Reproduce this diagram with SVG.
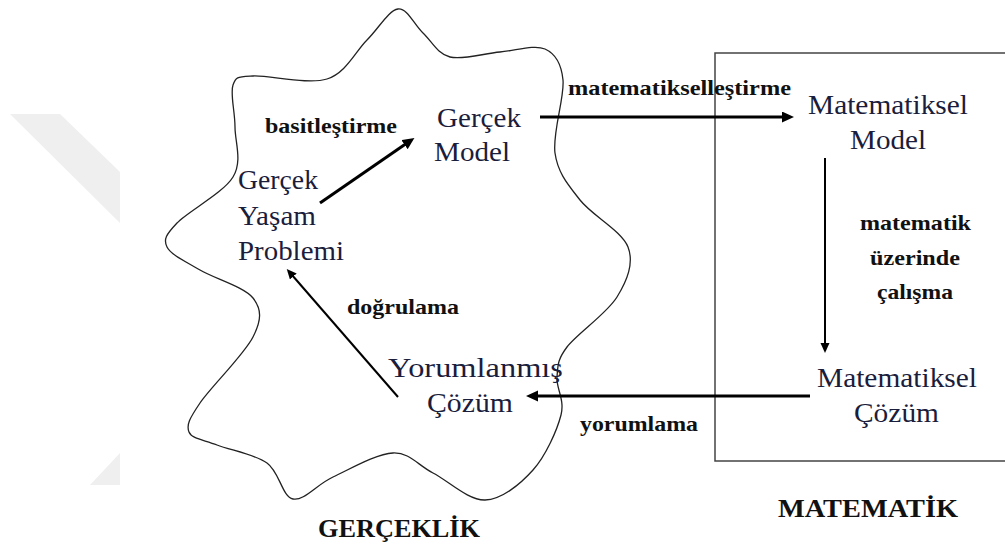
<svg xmlns="http://www.w3.org/2000/svg" width="1005" height="547" viewBox="0 0 1005 547">
  <style>
    .node { font-family: "Liberation Serif", "Times New Roman", serif; font-size: 27px; fill: #1b1d3c; }
    .lbl { font-family: "Liberation Serif", "Times New Roman", serif; font-size: 21px; font-weight: bold; fill: #111; }
    .title { font-family: "Liberation Serif", "Times New Roman", serif; font-size: 25px; font-weight: bold; fill: #111; }
    .thick { stroke: #000; stroke-width: 3; fill: none; marker-end: url(#head); }
    .thin { stroke: #000; stroke-width: 2; fill: none; marker-end: url(#headS); }
  </style>
  <defs>
    <marker id="head" markerUnits="userSpaceOnUse" markerWidth="14" markerHeight="12" refX="3" refY="5.5" orient="auto">
      <path d="M0,0 L12,5.5 L0,11 z" fill="#000"/>
    </marker>
    <marker id="headS" markerUnits="userSpaceOnUse" markerWidth="12" markerHeight="10" refX="2" refY="4.5" orient="auto">
      <path d="M0,0 L10,4.5 L0,9 z" fill="#000"/>
    </marker>
  </defs>

  <rect width="1005" height="547" fill="#fff"/>

  <!-- faint background band -->
  <g id="backdrop" fill="#efefef">
    <polygon points="10,114 60,114 120,172 120,223"/>
    <polygon points="90,485 120,453 120,485"/>
  </g>

  <!-- reality region (wavy outline) -->
  <g id="gerceklik">
    <path fill="none" stroke="#222" stroke-width="1.3" d="
      M398,9
      C407.3,7.8 414.3,25 423,33
      C431.7,41 437.2,53.8 450,57
      C462.8,60.2 484.2,53.3 500,52
      C515.8,50.7 534.5,44.3 545,49
      C555.5,53.7 561.3,62.7 563,80
      C564.7,97.3 552.2,133 555,153
      C557.8,173 567.8,184.3 580,200
      C592.2,215.7 621.8,230.8 628,247
      C634.2,263.2 627.2,280.3 617,297
      C606.8,313.7 577,333.7 567,347
      C557,360.3 558,365.7 557,377
      C556,388.3 565,399.5 561,415
      C557,430.5 545.7,455.8 533,470
      C520.3,484.2 501.7,499.5 485,500
      C468.3,500.5 448.3,480.8 433,473
      C417.7,465.2 409.7,452.3 393,453
      C376.3,453.7 349.7,469.3 333,477
      C316.3,484.7 304,501.3 293,499
      C282,496.7 279.7,472 267,463
      C254.3,454 230,450.2 217,445
      C204,439.8 191.8,439 189,432
      C186.2,425 189.3,418.8 200,403
      C210.7,387.2 244.2,354.5 253,337
      C261.8,319.5 261.8,309.2 253,298
      C244.2,286.8 214.3,278.5 200,270
      C185.7,261.5 170.8,254.8 167,247
      C163.2,239.2 166,234.7 177,223
      C188,211.3 223.3,193 233,177
      C242.7,161 235,142.3 235,127
      C235,111.7 230,93.5 233,85
      C236,76.5 237.3,77 253,76
      C268.7,75 308,85 327,79
      C346,73 355.2,51.7 367,40
      C378.8,28.3 388.7,10.2 398,9 Z"/>
  </g>

  <!-- mathematics region -->
  <g id="matematik">
    <path d="M1006,53 H715 V461 H1006" fill="none" stroke="#444" stroke-width="1.5"/>
  </g>

  <!-- connectors -->
  <g id="connectors">
    <line class="thick" x1="540" y1="117" x2="785" y2="117"/>
    <line class="thin" x1="825" y1="158" x2="825" y2="345"/>
    <line class="thick" x1="810" y1="396" x2="535" y2="396"/>
    <line class="thick" x1="320" y1="203" x2="407" y2="143"/>
    <line class="thin" x1="398" y1="397" x2="292" y2="275"/>
  </g>

  <!-- nodes -->
  <g id="gercek-yasam-problemi">
    <text class="node" x="238" y="189" textLength="80" lengthAdjust="spacingAndGlyphs">Gerçek</text>
    <text class="node" x="238" y="225" textLength="78" lengthAdjust="spacingAndGlyphs">Yaşam</text>
    <text class="node" x="238" y="260" textLength="106" lengthAdjust="spacingAndGlyphs">Problemi</text>
  </g>
  <g id="gercek-model">
    <text class="node" x="437" y="127" textLength="84" lengthAdjust="spacingAndGlyphs">Gerçek</text>
    <text class="node" x="434" y="161" textLength="76" lengthAdjust="spacingAndGlyphs">Model</text>
  </g>
  <g id="matematiksel-model">
    <text class="node" x="808" y="114" textLength="160" lengthAdjust="spacingAndGlyphs">Matematiksel</text>
    <text class="node" x="850" y="149" textLength="76" lengthAdjust="spacingAndGlyphs">Model</text>
  </g>
  <g id="matematiksel-cozum">
    <text class="node" x="817" y="387" textLength="160" lengthAdjust="spacingAndGlyphs">Matematiksel</text>
    <text class="node" x="854" y="422" textLength="85" lengthAdjust="spacingAndGlyphs">Çözüm</text>
  </g>
  <g id="yorumlanmis-cozum">
    <text class="node" x="388" y="377" textLength="175" lengthAdjust="spacingAndGlyphs">Yorumlanmış</text>
    <text class="node" x="427" y="412" textLength="86" lengthAdjust="spacingAndGlyphs">Çözüm</text>
  </g>

  <!-- connector labels -->
  <g id="labels">
    <text class="lbl" x="265" y="133" textLength="132" lengthAdjust="spacingAndGlyphs">basitleştirme</text>
    <text class="lbl" x="568" y="95" textLength="223" lengthAdjust="spacingAndGlyphs">matematikselleştirme</text>
    <text class="lbl" x="860" y="230" textLength="111" lengthAdjust="spacingAndGlyphs">matematik</text>
    <text class="lbl" x="870" y="265" textLength="90" lengthAdjust="spacingAndGlyphs">üzerinde</text>
    <text class="lbl" x="877" y="299" textLength="76" lengthAdjust="spacingAndGlyphs">çalışma</text>
    <text class="lbl" x="580" y="431" textLength="118" lengthAdjust="spacingAndGlyphs">yorumlama</text>
    <text class="lbl" x="347" y="314" textLength="112" lengthAdjust="spacingAndGlyphs">doğrulama</text>
  </g>

  <!-- region titles -->
  <g id="titles">
    <text class="title" x="318" y="537" textLength="162" lengthAdjust="spacingAndGlyphs">GERÇEKLİK</text>
    <text class="title" x="778" y="517" textLength="180" lengthAdjust="spacingAndGlyphs">MATEMATİK</text>
  </g>
</svg>
